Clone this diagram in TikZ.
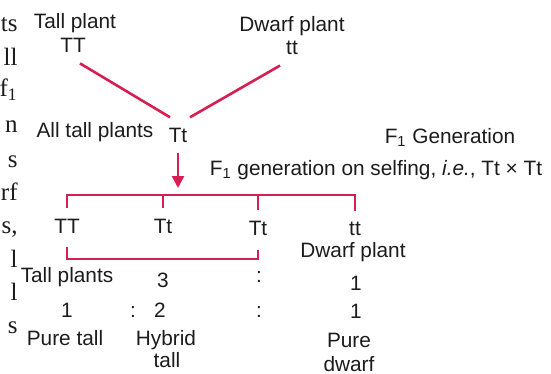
\documentclass[tikz,border=0pt]{standalone}
\usepackage{fontspec}
\setmainfont{Liberation Sans}
\newfontfamily\bookfont{Liberation Serif}
\usepackage{tikz}
\usetikzlibrary{arrows.meta,positioning}
\definecolor{cross}{RGB}{214,30,82}
\definecolor{ink}{RGB}{28,28,28}

\begin{document}
\begin{tikzpicture}[
  x=0.5pt, y=-0.5pt,
  font=\fontsize{10.4}{12}\selectfont,
  lbl/.style={anchor=base, inner sep=0pt, text=ink},
  geno/.style={anchor=base, inner sep=5pt, text=ink},
  frag/.style={anchor=base east, inner sep=0pt, text=ink, font=\bookfont\fontsize{12.5}{14}\selectfont},
  link/.style={draw=cross, line width=1.3pt},
  arrow/.style={link, -{Triangle[length=6pt, width=6pt]}, shorten >=3.5pt}
]
\path[fill=white, use as bounding box] (0,0) rectangle (551,374);

% ends of the running text beside the figure
\foreach \y/\w in {32/ts, 66/ll, 97/{f\textsubscript{1}}, 133/n, 167/s, 200/rf, 233/{s,}, 267/l, 300/l, 333/s}
  \node[frag] (frag\y) at (18,\y) {\w};

% parents
\node[lbl] (tallp) at (75,29) {Tall plant};
\node[geno] (pTT) at (73,53) {TT};
\node[lbl] (dwarfp) at (292,32) {Dwarf plant};
\node[geno] (ptt) at (292,55) {tt};

% F1
\node[lbl] (alltall) at (95,137) {All tall plants};
\node[geno] (fTt) at (178,142) {Tt};
\node[lbl] (fgen) at (450,143) {F\textsubscript{1} Generation};
\node[lbl] (self) at (376,175) {F\textsubscript{1} generation on selfing, \textit{i.e.}, Tt × Tt};

% F2
\node[geno] (g1) at (67,233) {TT};
\node[geno] (g2) at (163,233) {Tt};
\node[geno] (g3) at (258,235) {Tt};
\node[geno] (g4) at (355,235) {tt};
\node[lbl] (dwarfg) at (353,257) {Dwarf plant};

\node[lbl] (tallg) at (67,282) {Tall plants};
\node[lbl] (three) at (163,287) {3};
\node[lbl] (colA) at (259,282) {:};
\node[lbl] (oneA) at (356,290) {1};

\node[lbl] (oneB) at (67,317) {1};
\node[lbl] (colB) at (133,317) {:};
\node[lbl] (two) at (160,317) {2};
\node[lbl] (colC) at (259,317) {:};
\node[lbl] (oneC) at (356,318) {1};

\node[lbl] (puretall) at (65,345) {Pure tall};
\node[lbl] (hybrid) at (166,345) {Hybrid};
\node[lbl] (hybridt) at (167,367) {tall};
\node[lbl] (pure) at (349,347) {Pure};
\node[lbl] (pured) at (349,371) {dwarf};

\coordinate (bar) at (178,195);
\coordinate (low) at (160,259);

\draw[link] ([xshift=3.5pt]pTT.south) -- ([xshift=-4pt]fTt.north);
\draw[link] ([xshift=-6pt]ptt.south) -- ([xshift=6pt]fTt.north);
\draw[arrow] (fTt.south) -- (fTt.south |- bar);
\draw[link] (g1.north) |- (bar) -| (g4.north);
\draw[link] (g2.north) -- (g2.north |- bar);
\draw[link] (g3.north) -- (g3.north |- bar);
\draw[link, shorten <=2pt, shorten >=2pt] (g1.south) |- (low) -| (g3.south);
\end{tikzpicture}
\end{document}
